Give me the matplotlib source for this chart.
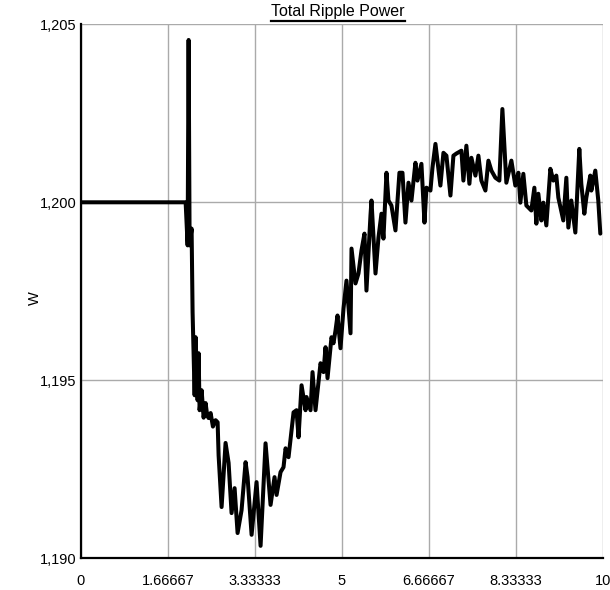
import matplotlib
matplotlib.use("Agg")
import matplotlib.pyplot as plt
from matplotlib.lines import Line2D

plt.rcParams['font.family'] = ['Liberation Sans', 'DejaVu Sans']

# Simulation time and total ripple power (W)
time = [0.000, 2.008, 2.046, 2.065, 2.084, 2.122, 2.141, 2.180, 2.199, 2.237,
        2.256, 2.275, 2.314, 2.352, 2.390, 2.420, 2.447, 2.486, 2.530, 2.581,
        2.620, 2.639, 2.696,
        2.772, 2.830, 2.887, 2.945, 3.002, 3.078, 3.155, 3.193, 3.270, 3.365,
        3.442, 3.537, 3.633, 3.709, 3.748, 3.824, 3.881, 3.920, 3.977, 4.073,
        4.130, 4.168, 4.226, 4.302, 4.321, 4.398, 4.436, 4.493, 4.589, 4.646,
        4.685, 4.723, 4.799, 4.837, 4.876, 4.914, 4.971, 5.029, 5.086, 5.163,
        5.182, 5.258, 5.315, 5.373, 5.430, 5.468, 5.545, 5.564, 5.641, 5.698,
        5.755, 5.793, 5.851, 5.889, 5.946, 6.023, 6.099, 6.157, 6.214, 6.272,
        6.329, 6.405, 6.444, 6.520, 6.578, 6.616, 6.692, 6.731, 6.788, 6.883,
        6.941, 6.998, 7.075, 7.132, 7.189, 7.285, 7.323, 7.380, 7.438, 7.476,
        7.553, 7.610, 7.667, 7.744, 7.801, 7.859, 7.935, 8.011, 8.069, 8.145,
        8.241, 8.317, 8.375, 8.413, 8.470, 8.528, 8.623, 8.681, 8.719, 8.757,
        8.815, 8.853, 8.910, 8.987, 9.044, 9.101, 9.140, 9.235, 9.293, 9.331,
        9.388, 9.465, 9.541, 9.579, 9.637, 9.675, 9.751, 9.771, 9.847, 9.904,
        9.943]
power = [1200.00, 1200.00, 1198.79, 1204.56, 1198.79, 1199.26, 1196.91, 1194.58, 1196.21, 1194.44,
         1195.76, 1194.16, 1194.72, 1193.95, 1194.36, 1194.02, 1193.94, 1194.08, 1193.70, 1193.88,
         1193.82, 1192.89, 1191.44,
         1193.24, 1192.68, 1191.27, 1191.97, 1190.71, 1191.35, 1192.70, 1192.28, 1190.66, 1192.14,
         1190.35, 1193.23, 1191.50, 1192.28, 1191.78, 1192.42, 1192.56, 1193.09, 1192.84, 1194.10,
         1194.16, 1193.40, 1194.86, 1194.16, 1194.53, 1194.16, 1195.23, 1194.16, 1195.48, 1195.23,
         1195.93, 1195.06, 1196.21, 1196.04, 1196.40, 1196.82, 1195.90, 1197.02, 1197.80, 1196.32,
         1198.70, 1197.72, 1198.00, 1198.65, 1199.12, 1197.52, 1199.63, 1200.05, 1198.00, 1199.01,
         1199.68, 1198.98, 1200.83, 1200.05, 1199.91, 1199.21, 1200.83, 1200.83, 1199.43, 1200.55,
         1200.05, 1201.11, 1200.61, 1201.08, 1199.43, 1200.41, 1200.33, 1200.97, 1201.64, 1200.47,
         1201.39, 1201.31, 1200.19, 1201.31, 1201.37, 1201.45, 1200.61, 1201.59, 1200.52, 1201.25,
         1200.75, 1201.31, 1200.61, 1200.33, 1201.17, 1200.89, 1200.69, 1200.61, 1202.62, 1200.55,
         1201.17, 1200.47, 1200.83, 1199.99, 1200.80, 1199.91, 1199.77, 1200.41, 1199.40, 1200.24,
         1199.49, 1199.99, 1199.35, 1200.94, 1200.61, 1200.75, 1200.13, 1199.49, 1200.69, 1199.29,
         1200.05, 1199.15, 1201.50, 1200.52, 1199.68, 1200.13, 1200.75, 1200.33, 1200.89, 1200.05,
         1199.12]

x_ticks = [0, 10 / 6, 20 / 6, 5, 40 / 6, 50 / 6, 10]
x_tick_labels = ["0", "1.66667", "3.33333", "5", "6.66667", "8.33333", "10"]
y_ticks = [1190, 1195, 1200, 1205]
y_tick_labels = ["1,190", "1,195", "1,200", "1,205"]

W, H = 610, 590
fig = plt.figure(figsize=(W / 100, H / 100), dpi=100)
ax = fig.add_axes([80.7 / W, 1 - 558.3 / H, (603.3 - 80.7) / W, (558.3 - 24.3) / H])

ax.plot(time, power, color="black", lw=2.9, solid_joinstyle="round",
        solid_capstyle="round", zorder=3)

ax.set_xlim(0, 10)
ax.set_ylim(1190, 1205)
ax.set_xticks(x_ticks)
ax.set_xticklabels(x_tick_labels)
ax.set_yticks(y_ticks)
ax.set_yticklabels(y_tick_labels)
ax.tick_params(axis="both", length=0, labelsize=10.5, colors="black")
ax.tick_params(axis="x", pad=11)
ax.tick_params(axis="y", pad=3)

ax.grid(True, color="#aaaaaa", lw=1.0)
ax.set_axisbelow(True)
for side in ("top", "right"):
    ax.spines[side].set_visible(False)
for side in ("left", "bottom"):
    ax.spines[side].set_color("black")
    ax.spines[side].set_linewidth(1.6)

fig.text(35 / W, 1 - 298 / H, "W", rotation=90, ha="center", va="center", fontsize=10.5)

title = fig.text(338 / W, 1 - 16 / H, "Total Ripple Power", ha="center",
                 va="baseline", fontsize=11.5)
fig.canvas.draw()
bb = title.get_window_extent()
fig.add_artist(Line2D([bb.x0 / W, bb.x1 / W], [1 - 21 / H, 1 - 21 / H],
                      transform=fig.transFigure, color="black", lw=1.6))

fig.savefig("out.png", dpi=100)
